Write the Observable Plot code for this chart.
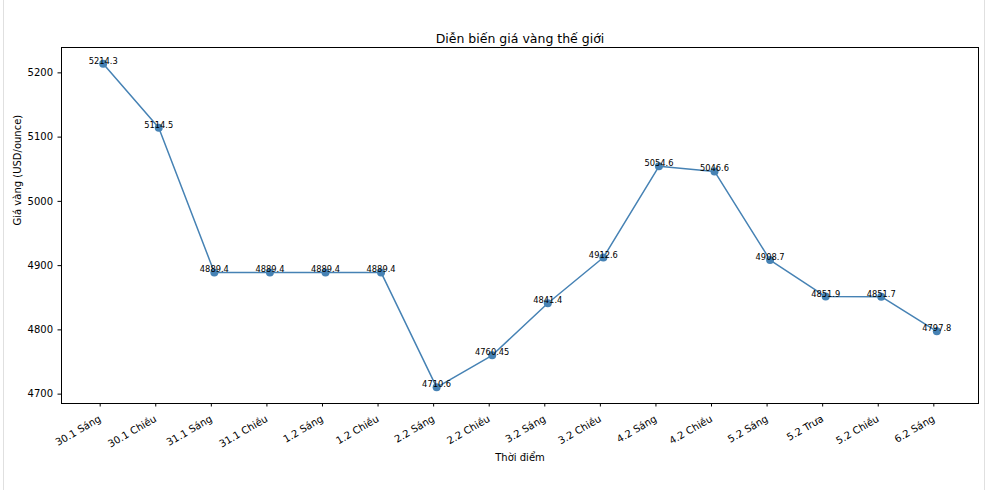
<!DOCTYPE html>
<html>
<head>
<meta charset="utf-8">
<script src="https://cdn.jsdelivr.net/npm/d3@7"></script>
<script src="https://cdn.jsdelivr.net/npm/@observablehq/plot@0.6"></script>
<style>
  html, body { margin: 0; padding: 0; background: #fff; }
  #wrap { position: relative; width: 988px; height: 490px; }
  #edge { position: absolute; left: 3px; top: 0; width: 980px; height: 490px;
          border-left: 1px solid #e0e0e0; border-right: 1px solid #e0e0e0; pointer-events: none; }
  svg, svg text { font-family: "DejaVu Sans", sans-serif; }
</style>
</head>
<body>
<div id="wrap"><div id="edge"></div></div>
<script>
const times = ["30.1 Sáng", "30.1 Chiều", "31.1 Sáng", "31.1 Chiều", "1.2 Sáng", "1.2 Chiều",
  "2.2 Sáng", "2.2 Chiều", "3.2 Sáng", "3.2 Chiều", "4.2 Sáng", "4.2 Chiều",
  "5.2 Sáng", "5.2 Trưa", "5.2 Chiều", "6.2 Sáng"];
const prices = [5214.3, 5114.5, 4889.4, 4889.4, 4889.4, 4889.4, 4710.6, 4760.45,
  4841.4, 4912.6, 5054.6, 5046.6, 4908.7, 4851.9, 4851.7, 4797.8];
const priceLabels = ["5214.3", "5114.5", "4889.4", "4889.4", "4889.4", "4889.4", "4710.6", "4760.45",
  "4841.4", "4912.6", "5054.6", "5046.6", "4908.7", "4851.9", "4851.7", "4797.8"];
const yTicks = [4700, 4800, 4900, 5000, 5100, 5200];
const title = "Diễn biến giá vàng thế giới";
const xLabel = "Thời điểm";
const yLabel = "Giá vàng (USD/ounce)";

const data = times.map((t, i) => ({t, p: prices[i], lab: priceLabels[i]}));
const lo = d3.min(prices), hi = d3.max(prices), pad = (hi - lo) * 0.05;

const chart = Plot.plot({
  width: 988,
  height: 490,
  marginLeft: 61,
  marginRight: 10,
  marginTop: 47,
  marginBottom: 87,
  style: {fontFamily: "DejaVu Sans, sans-serif", fontSize: "10px", color: "#000", background: "transparent"},
  x: {type: "point", domain: times, padding: 0.75, round: false, label: null},
  y: {domain: [lo - pad, hi + pad], label: null},
  marks: [
    Plot.frame({stroke: "#000", strokeWidth: 1}),
    Plot.axisY({ticks: yTicks, tickFormat: d3.format("d"), tickSize: 3.5, tickPadding: 5, fontSize: 10, label: null, stroke: "#000"}),
    Plot.axisX({tickSize: 3.5, tickRotate: -30, tickPadding: 11, dx: -3, fontSize: 10, label: null, stroke: "#000", textAnchor: "end"}),
    Plot.line(data, {x: "t", y: "p", stroke: "steelblue", strokeWidth: 1.5}),
    Plot.dot(data, {x: "t", y: "p", fill: "steelblue", r: 4}),
    Plot.text(data, {x: "t", y: "p", text: "lab", lineAnchor: "bottom", dy: 0, fontSize: 8.3, fill: "#000"}),
    Plot.text([title], {frameAnchor: "top", dy: -5, lineAnchor: "bottom", fontSize: 12.5, fill: "#000"}),
    Plot.text([xLabel], {frameAnchor: "bottom", dy: 50, lineAnchor: "top", fontSize: 10, fill: "#000"}),
    Plot.text([yLabel], {frameAnchor: "left", dx: -44, rotate: -90, fontSize: 10, fill: "#000"})
  ]
});
document.getElementById("wrap").prepend(chart);
</script>
</body>
</html>
